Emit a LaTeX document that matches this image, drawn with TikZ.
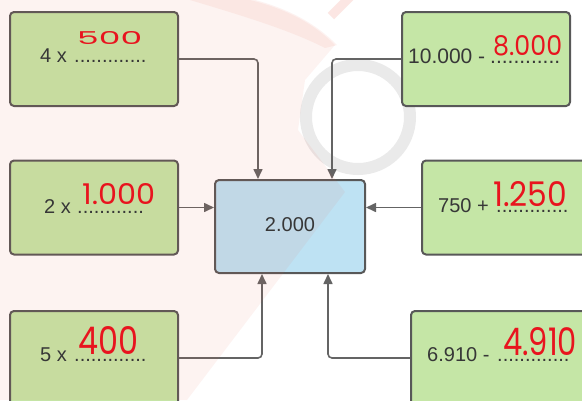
\documentclass[tikz,border=0pt]{standalone}
\usepackage{fontspec}
\usepackage{graphicx}
\setmainfont{Liberation Sans}
\newfontfamily\hand{Poppins}
\usetikzlibrary{arrows.meta}
\definecolor{gfill}{RGB}{197,230,166}
\definecolor{bfill}{RGB}{190,226,243}
\definecolor{bord}{RGB}{88,88,88}
\definecolor{conncol}{RGB}{100,100,100}
\definecolor{txt}{RGB}{55,55,55}
\definecolor{ink}{RGB}{232,20,30}
\definecolor{wmpink}{RGB}{235,90,70}
\definecolor{wmgrey}{RGB}{150,150,150}
\tikzset{
  gbox/.style={draw=bord, fill=gfill, line width=2pt, rounded corners=4pt, minimum width=168pt, minimum height=94pt, inner sep=0pt},
  cbox/.style={draw=bord, fill=bfill, line width=2pt, rounded corners=4pt, minimum width=150pt, minimum height=93pt, inner sep=0pt},
  conn/.style={draw=conncol, line width=1.6pt, rounded corners=4pt, -{Triangle[length=10pt,width=9pt]}},
  lab/.style={text=txt, inner sep=0pt, anchor=base west, font=\fontsize{20}{24}\selectfont},
  dots/.style={lab},
  ans/.style={text=ink, inner sep=0pt, anchor=south west}
}
\begin{document}
\begin{tikzpicture}[x=1pt,y=-1pt]
\useasboundingbox (0,0) rectangle (582,400);
\clip (0,0) rectangle (582,400);
\fill[white] (0,0) rectangle (582,400);
% watermark ring (under)
\draw[wmgrey, opacity=0.2, line width=12pt] (358,117) circle (52);
% boxes
\node[gbox] (b1) at (94,59) {};
\node[gbox] (b2) at (486,59) {};
\node[gbox] (b3) at (94,207.5) {};
\node[gbox] (b4) at (506,207.5) {};
\node[gbox] (b5) at (94,358) {};
\node[gbox, minimum width=175pt] (b6) at (498.5,358) {};
\node[cbox] (c) at (290,226.5) {};
% connectors
\draw[conn] (b1.east) -| ([xshift=-32]c.north);
\draw[conn] (b2.west) -| ([xshift=42]c.north);
\draw[conn] (b3.east) -- (b3.east -| c.west);
\draw[conn] (b4.west) -- (b4.west -| c.east);
\draw[conn] (b5.east) -| ([xshift=-28]c.south);
\draw[conn] (b6.west) -| ([xshift=38]c.south);
% watermark overlay
\fill[wmpink, opacity=0.07] (0,0) -- (250,0) .. controls (290,10) and (315,25) .. (335,45) -- (305,80) -- (298,130) -- (345,192) -- (187,400) -- (0,400) -- cycle;
\fill[wmpink, opacity=0.08] (190,0) -- (255,0) .. controls (292,10) and (317,25) .. (337,45) -- (325,48) .. controls (290,30) and (240,15) .. (190,0) -- cycle;
\draw[wmpink, opacity=0.15, line width=9pt] (331,16) -- (350,-3);
% texts
\node[lab] (t1) at (40,62) {4 x};
\node[dots] (d1) at (74,62) {.............};
\node[lab, font=\fontsize{21}{25}\selectfont] (t2) at (408,63) {10.000 -};
\node[dots, font=\fontsize{21}{25}\selectfont] (d2) at (490,63) {............};
\node[lab] (t3) at (44,213) {2 x};
\node[dots] (d3) at (77,213) {............};
\node[lab] (t4) at (438,212) {750 +};
\node[dots] (d4) at (496,212) {.............};
\node[lab] (t5) at (40,361) {5 x};
\node[dots] (d5) at (74,361) {.............};
\node[lab] (t6) at (427,361) {6.910 -};
\node[dots] (d6) at (497,361) {.............};
\node[lab, anchor=base] (tc) at (290,231) {2.000};
% handwritten answers
\node[ans] (a1) at (77,45) {\resizebox{65pt}{13pt}{\hand 500}};
\node[ans] (a2) at (493,56) {\resizebox{69pt}{20pt}{\hand 8.000}};
\node[ans] (a3) at (82,205) {\resizebox{73pt}{21pt}{\hand 1.000}};
\node[ans] (a4) at (493,207) {\resizebox{74pt}{25pt}{\hand 1.250}};
\node[ans] (a5) at (78,355) {\resizebox{60pt}{28pt}{\hand 400}};
\node[ans] (a6) at (503,356) {\resizebox{74pt}{28pt}{\hand 4.910}};
\end{tikzpicture}
\end{document}
